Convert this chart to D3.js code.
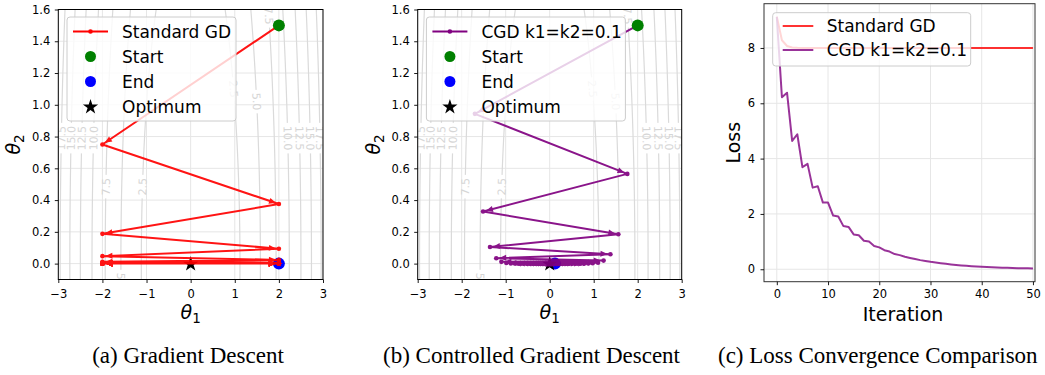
<!DOCTYPE html>
<html><head><meta charset="utf-8">
<script src="https://cdn.jsdelivr.net/npm/d3@7"></script>
<style>
body{margin:0;background:#fff}
svg{display:block}
</style>
</head><body>
<svg id="chart" width="1045" height="375" font-family="DejaVu Sans"></svg>
<script>
// ---------------- data ----------------
const thetaXTicks = [-3, -2, -1, 0, 1, 2, 3];
const thetaYTicks = [0, 0.2, 0.4, 0.6, 0.8, 1.0, 1.2, 1.4, 1.6];
const iterTicks = [0, 10, 20, 30, 40, 50];
const lossTicks = [0, 2, 4, 6, 8];
const contourLevels = [2.5, 5, 7.5, 10, 12.5, 15, 17.5];
// [level, side, theta2 where label sits]
const contourLabels = [[17.5,-1,0.79],[15,-1,0.79],[12.5,-1,0.79],[10,-1,0.79],[7.5,-1,0.485],[2.5,-1,0.485],
  [2.5,1,1.10],[5,1,1.02],[10,1,0.79],[12.5,1,0.79],[15,1,0.79],[17.5,1,0.79],[5,-1,-0.113],[7.5,1,1.56]];

const startPoint = [2, 1.5];
const optimum = [0, 0];

const gdTheta1 = [2,-2,2,-2,2,-2,2,-2,2,-2,2,-2,2,-2,2,-2,2,-2,2,-2,2,-2,2,-2,2,-2,2,-2,2,-2,2,-2,2,-2,2,-2,2,-2,2,-2,2,-2,2,-2,2,-2,2,-2,2,-2,2];
const gdTheta2 = [1.5,0.75,0.375,0.1875,0.0938,0.0469,0.0234,0.0117,0.0059,0.0029,0.0015,0.0007,0.0004,0.0002,0.0001,
  0,0,0,0,0,0,0,0,0,0,0,0,0,0,0,0,0,0,0,0,0,0,0,0,0,0,0,0,0,0,0,0,0,0,0,0];

const cgdTheta1 = [2.0,-1.70,1.764,-1.515,1.56,-1.357,1.38,-1.215,1.225,-1.098,1.098,-0.985,0.977,-0.883,0.875,-0.794,0.784,
  -0.718,0.707,-0.648,0.628,-0.587,0.566,-0.524,0.505,-0.474,0.452,-0.43,0.408,-0.389,0.37,-0.35,0.331,-0.313,0.296,
  -0.279,0.264,-0.249,0.236,-0.223,0.21,-0.199,0.188,-0.178,0.168,-0.159,0.15,-0.142,0.134,-0.127,0.12];
const cgdTheta2 = [1.5,0.943,0.565,0.328,0.185,0.105,0.059,0.034,0.019,0.011,0.006,0.0035,0.002,0.0011,0.0006,0.0003,0.0002,0.0001,
  0,0,0,0,0,0,0,0,0,0,0,0,0,0,0,0,0,0,0,0,0,0,0,0,0,0,0,0,0,0,0,0,0,0,0];

const gdLoss = [9.125,8.281,8.070,8.018,8.004,8.001,8,8,8,8,8,8,8,8,8,8,8,8,8,8,8,8,8,8,8,8,8,8,8,8,8,8,8,8,8,8,8,8,8,8,8,8,8,8,8,8,8,8,8,8,8];
const cgdLoss = [9.125,6.22,6.38,4.64,4.88,3.69,3.81,2.95,3.00,2.41,2.41,1.94,1.91,1.56,1.53,1.26,1.23,1.03,1.00,0.84,0.79,
  0.69,0.64,0.55,0.51,0.45,0.41,0.37,0.33,0.30,0.27,0.245,0.219,0.196,0.175,0.156,0.139,0.124,0.111,0.099,0.088,
  0.079,0.071,0.063,0.056,0.051,0.045,0.040,0.036,0.032,0.029];

const captions = ["(a) Gradient Descent", "(b) Controlled Gradient Descent", "(c) Loss Convergence Comparison"];

// loss surface used for the background contours
function lossSurface(t1, t2) { return 2 * t1 * t1 + 0.5 * t2 * t2; }

// ---------------- drawing ----------------
const svg = d3.select("#chart");
const defs = svg.append("defs");
const RED = "#ff0000", PURPLE = "#800080", GRID = "#e6e6e6", CONT = "#dadada";
const TICKFS = 11.5, LEGFS = 17;

// contour grid
const gx0 = -3.5, gx1 = 3.5, gy0 = -0.5, gy1 = 2.0, nx = 281, ny = 171;
const dxg = (gx1 - gx0) / (nx - 1), dyg = (gy1 - gy0) / (ny - 1);
const gridVals = new Array(nx * ny);
for (let j = 0; j < ny; j++) for (let i = 0; i < nx; i++) gridVals[j * nx + i] = lossSurface(gx0 + i * dxg, gy0 + j * dyg);
const contours = d3.contours().size([nx, ny]).thresholds(contourLevels)(gridVals);
const toData = p => [gx0 + (p[0] - 0.5) * dxg, gy0 + (p[1] - 0.5) * dyg];

function styleAxis(ax) {
  ax.select(".domain").remove();
  ax.attr("font-family", "DejaVu Sans");
  ax.selectAll(".tick line").attr("stroke", "#000").attr("stroke-width", 0.9);
  ax.selectAll(".tick text").attr("fill", "#000").attr("font-size", TICKFS);
}

function legendBox(g, bx, by, bw, bh, rows, o) {
  const lg = g.append("g");
  lg.append("rect").attr("x", bx).attr("y", by).attr("width", bw).attr("height", bh).attr("rx", 3)
    .attr("fill", "#fff").attr("fill-opacity", 0.8).attr("stroke", "#cccccc").attr("stroke-width", 1);
  rows.forEach((r, i) => {
    const cy = by + o.first + i * o.step;
    if (r.type === "line") {
      lg.append("line").attr("x1", bx + o.l0).attr("x2", bx + o.l1).attr("y1", cy).attr("y2", cy)
        .attr("stroke", r.color).attr("stroke-width", 2).attr("stroke-opacity", r.op || 1);
      if (r.dot) lg.append("circle").attr("cx", bx + (o.l0 + o.l1) / 2).attr("cy", cy).attr("r", 2.3).attr("fill", r.color);
    } else if (r.type === "circle") {
      lg.append("circle").attr("cx", bx + (o.l0 + o.l1) / 2).attr("cy", cy).attr("r", 5.5).attr("fill", r.color);
    } else {
      lg.append("path").attr("transform", `translate(${bx + (o.l0 + o.l1) / 2},${cy + 0.5})`)
        .attr("d", d3.symbol(d3.symbolStar, 72)()).attr("fill", r.color);
    }
    lg.append("text").attr("x", bx + o.tx).attr("y", cy).attr("dy", "0.36em").attr("font-size", LEGFS)
      .attr("fill", "#000").text(r.label);
  });
}

function trajPanel(o) {
  const x = d3.scaleLinear().domain([-3, 3]).range([o.left, o.right]);
  const y = d3.scaleLinear().domain([-0.1, 1.6]).range([o.bottom, o.top]);
  const g = svg.append("g");
  defs.append("clipPath").attr("id", "clip" + o.id).append("rect")
    .attr("x", o.left).attr("y", o.top).attr("width", o.right - o.left).attr("height", o.bottom - o.top);
  const plot = g.append("g").attr("clip-path", `url(#clip${o.id})`);

  // grid
  plot.selectAll(null).data(thetaXTicks).join("line")
    .attr("x1", d => x(d)).attr("x2", d => x(d)).attr("y1", o.top).attr("y2", o.bottom)
    .attr("stroke", GRID).attr("stroke-width", 1);
  plot.selectAll(null).data(thetaYTicks).join("line")
    .attr("y1", d => y(d)).attr("y2", d => y(d)).attr("x1", o.left).attr("x2", o.right)
    .attr("stroke", GRID).attr("stroke-width", 1);

  // contours with inline label gaps
  const mask = defs.append("mask").attr("id", "mask" + o.id).attr("maskUnits", "userSpaceOnUse")
    .attr("x", 0).attr("y", 0).attr("width", 1045).attr("height", 375);
  mask.append("rect").attr("x", 0).attr("y", 0).attr("width", 1045).attr("height", 375).attr("fill", "#fff");
  const cg = plot.append("g").attr("mask", `url(#mask${o.id})`);
  contours.forEach(c => {
    let d = "";
    c.coordinates.forEach(poly => poly.forEach(ring => {
      ring.forEach((p, k) => { const [a, b] = toData(p); d += (k ? "L" : "M") + x(a).toFixed(2) + "," + y(b).toFixed(2); });
      d += "Z";
    }));
    cg.append("path").attr("d", d).attr("fill", "none").attr("stroke", CONT).attr("stroke-width", 1.2);
  });
  const lblG = plot.append("g");
  contourLabels.forEach(([lev, side, t2]) => {
    const c = contours.find(cc => cc.value === lev);
    let best = null;
    c.coordinates.forEach(poly => poly.forEach(ring => ring.forEach((p, k) => {
      const [a, b] = toData(p);
      if (side * a <= 0 || Math.abs(a) > 3.3 || b < gy0 + 0.05 || b > gy1 - 0.05) return;
      const dist = Math.abs(b - t2);
      if (!best || dist < best.dist) best = { dist, ring, k, a, b };
    })));
    if (!best) return;
    const n = best.ring.length;
    const p0 = toData(best.ring[(best.k - 2 + n) % n]), p1 = toData(best.ring[(best.k + 2) % n]);
    let ang = Math.atan2(y(p1[1]) - y(p0[1]), x(p1[0]) - x(p0[0])) * 180 / Math.PI;
    if (ang > 90) ang -= 180;
    if (ang <= -90) ang += 180;
    const px = x(best.a), py = y(t2);
    const t = lblG.append("text").attr("transform", `translate(${px},${py}) rotate(${ang})`)
      .attr("text-anchor", "middle").attr("dy", "0.36em").attr("font-size", 11).attr("fill", "#d6d6d6")
      .text(lev.toFixed(1));
    const w = t.node().getComputedTextLength() + 6;
    mask.append("rect").attr("x", -w / 2).attr("y", -6).attr("width", w).attr("height", 12).attr("fill", "#000")
      .attr("transform", `translate(${px},${py}) rotate(${ang})`);
  });

  // end point and optimum star (below the path)
  const last = o.t1.length - 1;
  plot.append("circle").attr("cx", x(o.t1[last])).attr("cy", y(o.t2[last])).attr("r", 6).attr("fill", "#0000ff");
  plot.append("path").attr("transform", `translate(${x(optimum[0])},${y(optimum[1]) + 0.5})`)
    .attr("d", d3.symbol(d3.symbolStar, 72)()).attr("fill", "#000");

  // trajectory
  const pts = o.t1.map((v, i) => [x(v), y(o.t2[i])]);
  const pg = plot.append("g").attr("opacity", 0.92);
  pg.append("path").attr("d", d3.line()(pts)).attr("fill", "none").attr("stroke", o.color)
    .attr("stroke-width", 2).attr("stroke-linejoin", "round");
  pg.selectAll(null).data(pts).join("circle").attr("cx", d => d[0]).attr("cy", d => d[1]).attr("r", 2.3).attr("fill", o.color);
  // arrow heads near the end of each step
  for (let i = 0; i < pts.length - 1; i++) {
    const [ax0, ay0] = pts[i], [ax1, ay1] = pts[i + 1];
    const L = Math.hypot(ax1 - ax0, ay1 - ay0);
    if (L < 8) continue;
    const ux = (ax1 - ax0) / L, uy = (ay1 - ay0) / L;
    const tx = ax1 - ux * 3, ty = ay1 - uy * 3;
    const bx = tx - ux * 7, by = ty - uy * 7;
    pg.append("path").attr("d", `M${tx},${ty}L${bx - uy * 3},${by + ux * 3}L${bx + uy * 3},${by - ux * 3}Z`)
      .attr("fill", o.color);
  }

  // start point on top
  plot.append("circle").attr("cx", x(startPoint[0])).attr("cy", y(startPoint[1])).attr("r", 6).attr("fill", "#008000");

  // frame
  g.append("rect").attr("x", o.left).attr("y", o.top).attr("width", o.right - o.left).attr("height", o.bottom - o.top)
    .attr("fill", "none").attr("stroke", "#000").attr("stroke-width", 1);

  // axes
  const ax = g.append("g").attr("transform", `translate(0,${o.bottom})`)
    .call(d3.axisBottom(x).tickValues(thetaXTicks).tickSize(3.5).tickPadding(6.5).tickFormat(d3.format("d")));
  styleAxis(ax);
  const ay = g.append("g").attr("transform", `translate(${o.left},0)`)
    .call(d3.axisLeft(y).tickValues(thetaYTicks).tickSize(3.5).tickPadding(4.5).tickFormat(d3.format(".1f")));
  styleAxis(ay);

  // axis labels
  const xl = g.append("text").attr("x", (o.left + o.right) / 2).attr("y", o.bottom + 39).attr("text-anchor", "middle")
    .attr("font-size", 19);
  xl.append("tspan").attr("font-style", "italic").text("θ");
  xl.append("tspan").attr("font-size", 13.5).attr("dy", 4).text("1");
  const yl = g.append("text").attr("transform", `translate(${o.left - 38},${(o.top + o.bottom) / 2}) rotate(-90)`)
    .attr("text-anchor", "middle").attr("font-size", 19);
  yl.append("tspan").attr("font-style", "italic").text("θ");
  yl.append("tspan").attr("font-size", 13.5).attr("dy", 4).text("2");

  legendBox(g, o.left + 8.7, o.top + 7.5, o.legW, 104, [
    { type: "line", color: o.color, label: o.name, dot: true },
    { type: "circle", color: "#008000", label: "Start" },
    { type: "circle", color: "#0000ff", label: "End" },
    { type: "star", color: "#000", label: "Optimum" }
  ], { first: 14.5, step: 25, l0: 6, l1: 41, tx: 55 });
}

trajPanel({ id: "a", left: 58.3, right: 323, top: 9.5, bottom: 279.5, t1: gdTheta1, t2: gdTheta2, color: RED, name: "Standard GD", legW: 169 });
trajPanel({ id: "b", left: 417.7, right: 681.7, top: 9.5, bottom: 279.5, t1: cgdTheta1, t2: cgdTheta2, color: PURPLE, name: "CGD k1=k2=0.1", legW: 199 });

// ---- loss panel ----
(function () {
  const L = 764, R = 1035, T = 3.7, B = 281.7;
  const x = d3.scaleLinear().domain([-2.5, 50.4]).range([L, R]);
  const y = d3.scaleLinear().domain([-0.45, 9.6]).range([B, T]);
  const g = svg.append("g");
  defs.append("clipPath").attr("id", "clipc").append("rect").attr("x", L).attr("y", T).attr("width", R - L).attr("height", B - T);
  const plot = g.append("g").attr("clip-path", "url(#clipc)");
  plot.selectAll(null).data(iterTicks).join("line").attr("x1", d => x(d)).attr("x2", d => x(d)).attr("y1", T).attr("y2", B)
    .attr("stroke", GRID).attr("stroke-width", 1);
  plot.selectAll(null).data(lossTicks).join("line").attr("y1", d => y(d)).attr("y2", d => y(d)).attr("x1", L).attr("x2", R)
    .attr("stroke", GRID).attr("stroke-width", 1);
  const line = d3.line().x((d, i) => x(i)).y(d => y(d));
  plot.append("path").attr("d", line(gdLoss)).attr("fill", "none").attr("stroke", RED).attr("stroke-opacity", 0.8).attr("stroke-width", 2);
  plot.append("path").attr("d", line(cgdLoss)).attr("fill", "none").attr("stroke", PURPLE).attr("stroke-opacity", 0.8).attr("stroke-width", 2)
    .attr("stroke-linejoin", "round");
  g.append("rect").attr("x", L).attr("y", T).attr("width", R - L).attr("height", B - T).attr("fill", "none").attr("stroke", "#333").attr("stroke-width", 1);
  const ax = g.append("g").attr("transform", `translate(0,${B})`)
    .call(d3.axisBottom(x).tickValues(iterTicks).tickSize(3.5).tickPadding(4.5).tickFormat(d3.format("d")));
  styleAxis(ax);
  const ay = g.append("g").attr("transform", `translate(${L},0)`)
    .call(d3.axisLeft(y).tickValues(lossTicks).tickSize(3.5).tickPadding(5.5).tickFormat(d3.format("d")));
  styleAxis(ay);
  g.append("text").attr("x", 903).attr("y", 321).attr("text-anchor", "middle").attr("font-size", 19).text("Iteration");
  g.append("text").attr("transform", `translate(740,${(T + B) / 2}) rotate(-90)`).attr("text-anchor", "middle").attr("font-size", 19).text("Loss");
  legendBox(g, L + 8.7, 12.7, 198, 53.3, [
    { type: "line", color: RED, label: "Standard GD", op: 0.8 },
    { type: "line", color: PURPLE, label: "CGD k1=k2=0.1", op: 0.8 }
  ], { first: 13.3, step: 24, l0: 10, l1: 40.6, tx: 54 });
})();

// captions
const capX = [188, 531.5, 718];
const capAnchor = ["middle", "middle", "start"];
svg.selectAll(null).data(captions).join("text")
  .attr("x", (d, i) => capX[i]).attr("y", 363).attr("text-anchor", (d, i) => capAnchor[i])
  .style("font-family", "'Liberation Serif', serif").attr("font-size", 23).attr("fill", "#000").text(d => d);
</script>
</body></html>
